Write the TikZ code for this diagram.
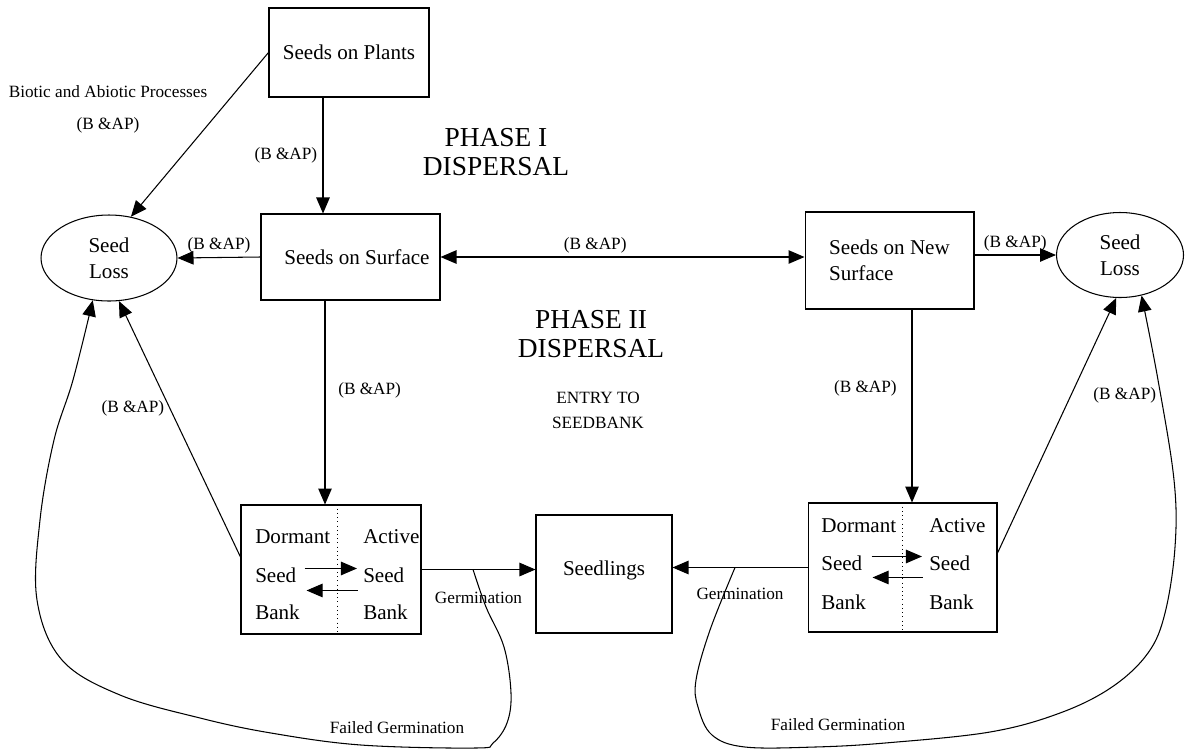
\documentclass[tikz,border=0pt]{standalone}
\usepackage{fontspec}
\setmainfont{Liberation Serif}
\usetikzlibrary{positioning,calc,arrows.meta,shapes.geometric}

\begin{document}
\begin{tikzpicture}[
	x=0.02cm, y=-0.02cm,
	line width=0.6pt,
	% boxes and ellipses
	box/.style={draw, rectangle, font=\fontsize{12}{14.7}\selectfont, align=center, inner sep=2pt},
	loss/.style={draw, ellipse, font=\fontsize{12}{14.7}\selectfont, align=center, inner sep=0pt},
	% small labels on the connectors
	lbl/.style={font=\fontsize{9.8}{12}\selectfont, inner sep=1pt},
	phase/.style={font=\fontsize{15.6}{17}\selectfont, align=center},
	bk/.style={font=\fontsize{12}{14}\selectfont, inner sep=1pt, anchor=west},
	arr/.style={-{Triangle[length=0.32cm,width=0.27cm]}}
	]
	\useasboundingbox (0,0) rectangle (1185,751);

	% --- NODES ---
	\node[box, minimum width=3.2cm, minimum height=1.78cm] (plants) at (349,52.5) {Seeds on Plants};
	\node[box, minimum width=3.58cm, minimum height=1.72cm] (surface) at (350.5,257) {\hspace{0.26cm}Seeds on Surface};
	\node[box, minimum width=3.38cm, minimum height=1.94cm, align=left] (newsurf) at (889.5,260.5) {Seeds on New\\Surface};
	\node[loss, minimum width=2.72cm, minimum height=1.72cm] (lossL) at (109,258) {Seed\\Loss};
	\node[loss, minimum width=2.54cm, minimum height=1.7cm] (lossR) at (1120,255) {Seed\\Loss};
	\node[draw, minimum width=3.6cm, minimum height=2.58cm] (bankL) at (331,569.5) {};
	\node[draw, minimum width=3.78cm, minimum height=2.58cm] (bankR) at (902.5,567.5) {};
	\node[box, minimum width=2.72cm, minimum height=2.36cm] (seedlings) at (604,574) {\raisebox{0.24cm}{Seedlings}};

	% --- TEXTS ---
	\node[lbl] (biotic) at (108,92) {Biotic and Abiotic Processes};
	\node[lbl] (bap) at (108,125) {(B \&AP)};
	\node[phase] (phase1) at (496,152) {PHASE I\\DISPERSAL};
	\node[phase] (phase2) at (591,334) {PHASE II\\DISPERSAL};
	\node[lbl, align=center, font=\fontsize{9.8}{14}\selectfont] (entry) at (598,410.5) {ENTRY TO\\SEEDBANK};
	\node[lbl] (failL) at (397,728) {Failed Germination};
	\node[lbl] (failR) at (838,725) {Failed Germination};

	% --- SEED BANKS ---
	\draw[dotted, line width=0.4pt] ([xshift=0.12cm]bankL.north) -- ([xshift=0.12cm]bankL.south);
	\node[bk] (dL) at ([xshift=0.25cm,yshift=-0.64cm]bankL.north west) {Dormant};
	\node[bk] (sL) at ([xshift=0.25cm,yshift=-1.42cm]bankL.north west) {Seed};
	\node[bk] (bL) at ([xshift=0.25cm,yshift=-2.16cm]bankL.north west) {Bank};
	\node[bk] (daL) at ([xshift=2.41cm,yshift=-0.64cm]bankL.north west) {Active};
	\node[bk] (saL) at ([xshift=2.41cm,yshift=-1.42cm]bankL.north west) {Seed};
	\node[bk] (baL) at ([xshift=2.41cm,yshift=-2.16cm]bankL.north west) {Bank};
	\draw[arr] ([xshift=0.12cm,yshift=0.14cm]sL.east) -- ([xshift=-0.08cm,yshift=0.14cm]saL.west);
	\draw[arr] ([xshift=-0.06cm,yshift=-0.3cm]saL.west) -- ([xshift=0.16cm,yshift=-0.3cm]sL.east);

	\draw[dotted, line width=0.4pt] (bankR.north) -- (bankR.south);
	\node[bk] (dR) at ([xshift=0.23cm,yshift=-0.46cm]bankR.north west) {Dormant};
	\node[bk] (sR) at ([xshift=0.23cm,yshift=-1.22cm]bankR.north west) {Seed};
	\node[bk] (bR) at ([xshift=0.23cm,yshift=-2.0cm]bankR.north west) {Bank};
	\node[bk] (daR) at ([xshift=2.39cm,yshift=-0.46cm]bankR.north west) {Active};
	\node[bk] (saR) at ([xshift=2.39cm,yshift=-1.22cm]bankR.north west) {Seed};
	\node[bk] (baR) at ([xshift=2.39cm,yshift=-2.0cm]bankR.north west) {Bank};
	\draw[arr] ([xshift=0.14cm,yshift=0.14cm]sR.east) -- ([xshift=-0.1cm,yshift=0.14cm]saR.west);
	\draw[arr] ([xshift=-0.08cm,yshift=-0.28cm]saR.west) -- ([xshift=0.16cm,yshift=-0.28cm]sR.east);

	% --- PHASE I ---
	\draw[arr] (plants.west) -- (lossL.62);
	\coordinate (p1) at ([xshift=-0.52cm]plants.south);
	\draw[arr] (p1) -- (p1 |- surface.north) node[lbl, midway, left=2pt] {(B \&AP)};
	\draw[arr] (surface.west) -- (lossL.east) node[lbl, midway, above=1pt] {(B \&AP)};
	\draw[{Triangle[length=0.32cm,width=0.27cm]}-{Triangle[length=0.32cm,width=0.27cm]}] (surface.east) -- (surface.east -| newsurf.west) node[lbl, pos=0.425, above=1pt] {(B \&AP)};
	\draw[arr] (lossR.west -| newsurf.east) -- (lossR.west) node[lbl, midway, above=1pt] {(B \&AP)};

	% --- PHASE II ---
	\coordinate (p2) at ([xshift=-0.51cm]surface.south);
	\draw[arr] (p2) -- (p2 |- bankL.north) node[lbl, pos=0.44, right=0.22cm] {(B \&AP)};
	\coordinate (p3) at ([xshift=0.45cm]newsurf.south);
	\draw[arr] (p3) -- (p3 |- bankR.north) node[lbl, pos=0.41, left=0.26cm] {(B \&AP)};
	\draw[arr] ([yshift=0.25cm]bankL.west) -- (lossL.-77) node[lbl, pos=0.58, left=2pt] {(B \&AP)};
	\draw[arr] ([yshift=0.29cm]bankR.east) -- (lossR.265) node[lbl, pos=0.62, right=0.4cm] {(B \&AP)};

	% --- GERMINATION ---
	\draw[arr] (bankL.east) -- (bankL.east -| seedlings.west) node[lbl, midway, below=0.4cm] {Germination};
	\draw[arr] (bankR.west) -- (bankR.west -| seedlings.east) node[lbl, midway, below=0.36cm] {Germination};
	\coordinate (gL) at ($(bankL.east)!0.452!(bankL.east -| seedlings.west)$);
	\coordinate (gR) at ($(bankR.west)!0.537!(bankR.west -| seedlings.east)$);

	% failed germination loops
	\draw[arr] plot[smooth, tension=0.6] coordinates {(gL) (486,607) (504,647) (511,693) (507,723) (493,743) (475,748) (361,745) (271,733) (200,718) (120,695) (62,660) (37,600) (40,520) (54,440) (73,380) (lossL.-111)};
	\draw[arr] plot[smooth, tension=0.6] coordinates {(gR) (710,630) (696,680) (698,707) (712,735) (745,747) (815,747) (885,743) (990,732) (1060,713) (1112,687) (1148,653) (1165,613) (1175,547) (1174,480) (1158,380) (lossR.298)};
\end{tikzpicture}
\end{document}
